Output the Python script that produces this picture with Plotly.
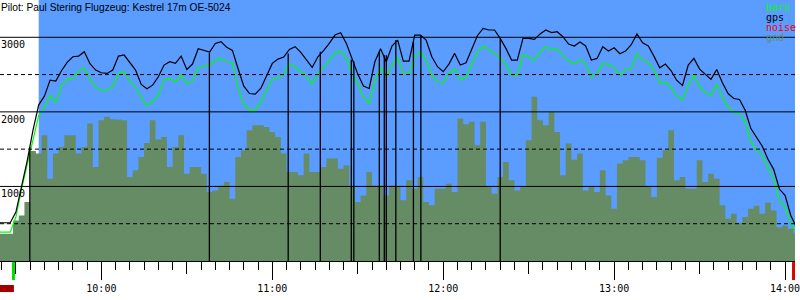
import plotly.graph_objects as go

DAY = "2024-01-01 "

# sample times (local clock)
times = (
    ["09:24", "09:26", "09:28", "09:30", "09:32", "09:34", "09:36", "09:38", "09:40",
     "09:42", "09:44", "09:46", "09:48", "09:50", "09:52", "09:54", "09:56", "09:58"]
    + ["10:%02d" % m for m in range(0, 60, 2)]
    + ["11:%02d" % m for m in range(0, 60, 2)]
    + ["12:%02d" % m for m in range(0, 60, 2)]
    + ["13:%02d" % m for m in range(0, 60, 2)]
    + ["14:00", "14:02", "14:04"]
)

gps = [513, 513, 513, 656, 1005, 1350, 1754, 2094, 2211, 2426,
       2412, 2551, 2663, 2739, 2748, 2806, 2645, 2560, 2524, 2515,
       2560, 2748, 2762, 2663, 2560, 2367, 2309, 2358, 2470, 2627,
       2672, 2650, 2748, 2569, 2641, 2847, 2824, 2802, 2918, 2941,
       2865, 2824, 2578, 2345, 2246, 2237, 2318, 2493, 2650, 2708,
       2735, 2838, 2874, 2797, 2694, 2596, 2739, 2820, 2918, 3030,
       3062, 2918, 2712, 2506, 2345, 2314, 2672, 2847, 2672, 2883,
       2963, 2681, 2681, 3030, 3030, 2963, 2739, 2605, 2538, 2641,
       2784, 2627, 2659, 2842, 3021, 3120, 3098, 3098, 2986, 2851,
       2694, 2694, 2986, 2986, 2972, 3044, 3098, 3062, 3075, 3008,
       2909, 2883, 2936, 2883, 2694, 2717, 2874, 2815, 2860, 2780,
       2815, 2900, 3044, 2927, 2883, 2744, 2591, 2641, 2551, 2421,
       2354, 2627, 2717, 2573, 2502, 2435, 2569, 2390, 2246, 2179,
       2166, 2022, 1776, 1655, 1539, 1364, 1229, 965, 880, 611,
       454]

baro = [387, 387, 387, 589, 970, 1297, 1619, 1951, 2058, 2224,
        2121, 2354, 2439, 2448, 2547, 2591, 2439, 2336, 2291, 2291,
        2336, 2515, 2538, 2408, 2336, 2193, 2081, 2139, 2224, 2435,
        2448, 2399, 2493, 2381, 2417, 2591, 2614, 2627, 2694, 2717,
        2672, 2659, 2314, 2103, 2022, 2022, 2130, 2291, 2444, 2452,
        2506, 2645, 2605, 2538, 2470, 2372, 2515, 2596, 2694, 2788,
        2820, 2717, 2515, 2381, 2202, 2112, 2426, 2596, 2470, 2627,
        2730, 2515, 2502, 2757, 2806, 2694, 2493, 2403, 2390, 2515,
        2578, 2426, 2470, 2641, 2797, 2883, 2829, 2784, 2717, 2636,
        2493, 2493, 2771, 2739, 2694, 2806, 2874, 2838, 2838, 2762,
        2681, 2641, 2703, 2641, 2470, 2515, 2650, 2636, 2600, 2493,
        2569, 2578, 2784, 2694, 2659, 2560, 2390, 2394, 2327, 2215,
        2157, 2358, 2493, 2336, 2260, 2220, 2372, 2197, 2067, 2000,
        1978, 1866, 1597, 1489, 1409, 1252, 1095, 808, 723, 499,
        387]

gnd = [365, 365, 365, 544, 611, 790, 1476, 1440, 1686, 1104,
       1440, 1530, 1686, 1686, 1440, 1530, 1843, 1261, 1888, 1933,
       1901, 1897, 1888, 1126, 1216, 1395, 1583, 1888, 1628, 1664,
       1261, 1530, 1686, 1171, 1261, 1261, 1171, 925, 947, 1014,
       1059, 835, 1395, 1485, 1754, 1821, 1821, 1798, 1731, 1664,
       1440, 1194, 1194, 1149, 1440, 1194, 1194, 1261, 1373, 1373,
       1238, 1283, 1001, 790, 880, 1194, 1014, 1014, 880, 1014,
       1000, 813, 1082, 970, 1126, 790, 746, 970, 970, 1037,
       925, 1910, 1834, 1866, 1552, 1866, 992, 902, 1126, 1328,
       1082, 947, 992, 1619, 2202, 1888, 1821, 2000, 1731, 1149,
       1574, 1359, 1440, 947, 992, 925, 1216, 880, 701, 1306,
       1350, 1395, 1395, 1350, 1001, 858, 1386, 1485, 1754, 1082,
       1126, 970, 970, 1350, 1059, 1171, 1104, 746, 566, 634,
       508, 589, 701, 741, 634, 786, 678, 454, 477, 432,
       365]

# GPS fix drop-outs (gps altitude falls to 0)
gps_dropout_times = ["09:34:53", "10:37:55", "11:05:35", "11:16:51", "11:27:44",
                     "11:28:37", "11:37:34", "11:39:19", "11:40:01", "11:43:22",
                     "11:49:32", "11:52:09", "12:20:00"]
gps_dropout_alt = [1530, 2790, 2784, 2806, 2700, 2680, 2806, 2760, 2760, 2963,
                   2941, 3030, 2986]

view_start, view_end = "09:24:25", "14:03:29"
task_start = "09:38:00"
takeoff = "09:29:08"
landing = "14:02:58"
noise_start, noise_end = "09:24:25", "09:29:18"

title = "Pilot: Paul Stering Flugzeug: Kestrel 17m OE-5024"
legend_items = [("baro", "#00ff00"), ("gps", "#000000"), ("noise", "#ff0000"), ("gnd", "#668c66")]
ylabels = [1000, 2000, 3000]


def ts(s):
    return DAY + (s if s.count(":") == 2 else s + ":00")


T = [ts(t) for t in times]
BLUE = "#5a9cff"
GND = "#668c66"
MONO = "DejaVu Sans Mono"

fig = go.Figure()
fig.add_trace(go.Scatter(x=T, y=gnd, mode="lines", line=dict(width=0, shape="hvh", color=GND),
                         fill="tozeroy", fillcolor=GND, hoverinfo="skip", showlegend=False))
fig.add_trace(go.Scatter(x=T, y=baro, mode="lines", line=dict(width=1.2, color="#00ff00"),
                         showlegend=False))
fig.add_trace(go.Scatter(x=T, y=gps, mode="lines", line=dict(width=1.2, color="#000000"),
                         showlegend=False))
dx, dy = [], []
for t, a in zip(gps_dropout_times, gps_dropout_alt):
    dx += [ts(t), ts(t), None]
    dy += [0, a, None]
fig.add_trace(go.Scatter(x=dx, y=dy, mode="lines", line=dict(width=1.3, color="#000000"),
                         showlegend=False, hoverinfo="skip"))
# carrier for the half-hour tick axis
fig.add_trace(go.Scatter(x=[ts(view_start)], y=[0], xaxis="x2", mode="markers",
                         marker=dict(opacity=0), showlegend=False, hoverinfo="skip"))

shapes = [dict(type="rect", xref="x", yref="y domain", x0=ts(task_start), x1=ts(view_end),
               y0=0, y1=1, fillcolor=BLUE, line=dict(width=0), layer="below")]
for v in [500, 1000, 1500, 2000, 2500, 3000]:
    shapes.append(dict(type="line", xref="x domain", yref="y", x0=0, x1=1, y0=v, y1=v,
                       line=dict(color="black", width=1, dash="solid" if v % 1000 == 0 else "4px,3px"),
                       layer="above"))
shapes.append(dict(type="line", xref="x", yref="paper", x0=ts(takeoff), x1=ts(takeoff),
                   y0=-0.004, y1=-0.073, line=dict(color="#00dd00", width=3)))
shapes.append(dict(type="line", xref="x", yref="paper", x0=ts(landing), x1=ts(landing),
                   y0=-0.004, y1=-0.073, line=dict(color="#dd0000", width=3)))
shapes.append(dict(type="rect", xref="x", yref="paper", x0=ts(noise_start), x1=ts(noise_end),
                   y0=-0.092, y1=-0.119, fillcolor="#a00000", line=dict(width=0)))

annotations = [dict(text=title, xref="paper", yref="paper", x=0, y=1, xanchor="left",
                    yanchor="top", showarrow=False, xshift=-1,
                    font=dict(family="Liberation Sans", size=10.2, color="black"))]
for k, (name, col) in enumerate(legend_items):
    annotations.append(dict(text=name, xref="paper", yref="paper", x=770 / 800, y=1,
                            xanchor="left", yanchor="top", yshift=-10 * k, xshift=-1,
                            showarrow=False, font=dict(family=MONO, size=10, color=col)))
for v in ylabels:
    annotations.append(dict(text=str(v), xref="paper", yref="y", x=0, y=v, xanchor="left",
                            yanchor="top", showarrow=False, xshift=-1,
                            font=dict(family=MONO, size=10, color="black")))

fig.update_layout(
    width=800, height=300,
    margin=dict(l=0, r=0, t=0, b=39, pad=0),
    paper_bgcolor="white", plot_bgcolor="white",
    shapes=shapes, annotations=annotations,
    showlegend=False,
    xaxis=dict(type="date", range=[ts(view_start), ts(view_end)], showgrid=False, zeroline=False,
               showline=True, linecolor="black", linewidth=1,
               ticks="outside", ticklen=18, tickwidth=1, tickcolor="black",
               dtick=3600000, tick0=ts("10:00"), tickformat="%H:%M",
               ticklabeloverflow="allow",
               tickfont=dict(family=MONO, size=10, color="black"),
               minor=dict(ticks="outside", ticklen=8, tickwidth=1, tickcolor="black",
                          dtick=300000, tick0=ts("10:00"), showgrid=False)),
    xaxis2=dict(type="date", overlaying="x", anchor="y", range=[ts(view_start), ts(view_end)],
                showgrid=False, zeroline=False, showline=False, showticklabels=False,
                ticks="outside", ticklen=12, tickwidth=1, tickcolor="black",
                dtick=1800000, tick0=ts("09:30")),
    yaxis=dict(range=[0, 3500], showgrid=False, zeroline=False, showticklabels=False,
               ticks="", showline=False),
)

fig.write_html("out.html", config={"displayModeBar": False})
